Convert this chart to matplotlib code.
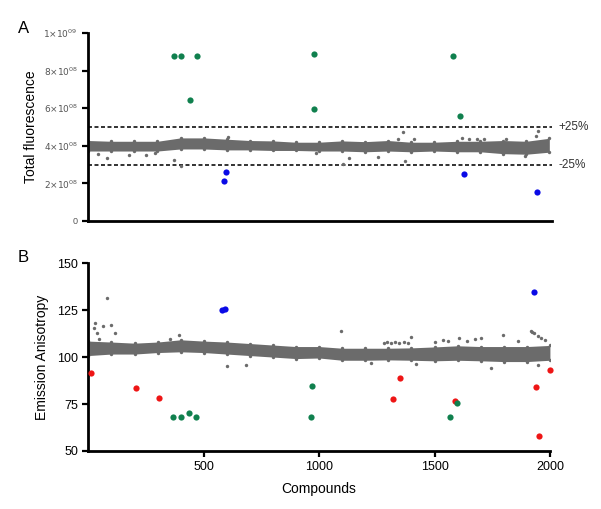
import matplotlib
matplotlib.use('Agg')
import matplotlib.pyplot as plt
import numpy as np

plt.rcParams['font.family'] = ['Liberation Sans', 'DejaVu Sans']

# ---- data ----
# dense gray band, envelope sampled every 100 compounds
env_x = [0, 100, 200, 300, 400, 500, 600, 700, 800, 900, 1000,
         1100, 1200, 1300, 1400, 1500, 1600, 1700, 1800, 1900, 2000]
# panel A, units of 1e8
a_top = [4.28, 4.24, 4.24, 4.24, 4.42, 4.42, 4.35, 4.28, 4.26, 4.19, 4.19,
         4.26, 4.22, 4.28, 4.19, 4.19, 4.24, 4.24, 4.28, 4.24, 4.40]
a_bot = [3.72, 3.72, 3.72, 3.72, 3.83, 3.83, 3.78, 3.78, 3.75, 3.75, 3.72,
         3.72, 3.68, 3.72, 3.68, 3.72, 3.68, 3.68, 3.58, 3.55, 3.66]
# panel B
b_top = [108.5, 108.0, 107.4, 108.0, 109.2, 108.5, 108.0, 107.2, 106.4, 105.6, 105.6,
         104.7, 104.7, 104.7, 104.9, 105.4, 106.0, 105.6, 105.6, 105.6, 106.2]
b_bot = [100.8, 101.6, 101.6, 102.4, 102.8, 102.4, 101.6, 100.8, 100.0, 99.2, 99.5,
         98.3, 98.3, 98.5, 98.3, 98.0, 98.3, 98.0, 97.6, 97.6, 98.3]

# panel A single points (x = compound, y = units of 1e8)
a_gray_x = [43, 82, 175, 248, 291, 370, 400, 606, 987, 1103, 1130, 1255, 1342,
            1364, 1374, 1412, 1622, 1652, 1686, 1716, 1813, 1896, 1943, 1953]
a_gray_y = [3.56, 3.36, 3.53, 3.53, 3.62, 3.23, 2.90, 4.45, 3.63, 3.03, 3.35, 3.40, 4.36,
            4.75, 3.19, 4.38, 4.43, 4.38, 4.35, 4.38, 4.38, 3.46, 4.52, 4.79]
a_green_x = [370, 404, 470, 443, 978, 978, 1583, 1613]
a_green_y = [8.77, 8.77, 8.77, 6.42, 8.88, 5.94, 8.77, 5.56]
a_blue_x = [587, 596, 1630, 1948]
a_blue_y = [2.14, 2.62, 2.51, 1.55]

# panel B single points
b_gray_x = [23, 30, 38, 45, 64, 81, 98, 114, 353, 392, 599, 684,
            1093, 1223, 1280, 1296, 1312, 1330, 1348, 1366, 1384, 1397, 1420,
            1500, 1535, 1560, 1607, 1640, 1675, 1701, 1744, 1795, 1860,
            1918, 1922, 1932, 1947, 1947, 1960, 1980]
b_gray_y = [115.3, 118.2, 112.9, 109.4, 116.5, 131.5, 117.0, 112.6, 109.7, 111.5, 95.2, 95.6,
            113.8, 96.6, 107.6, 107.8, 107.6, 107.8, 107.6, 107.8, 107.6, 110.8, 96.4,
            108.2, 109.0, 108.4, 110.3, 108.8, 109.4, 110.0, 94.3, 111.7, 108.6,
            113.8, 113.2, 112.9, 111.2, 95.7, 110.2, 109.0]
b_red_x = [12, 207, 304, 1319, 1349, 1588, 1939, 1954, 2001]
b_red_y = [91.3, 83.5, 78.4, 77.5, 89.0, 76.6, 84.2, 57.8, 92.9]
b_green_x = [367, 401, 436, 465, 966, 970, 1566, 1598]
b_green_y = [68.2, 68.2, 70.4, 68.1, 67.9, 84.6, 67.9, 75.4]
b_blue_x = [580, 590, 1929]
b_blue_y = [125.2, 125.7, 134.6]

a_yticks = [0, 2, 4, 6, 8, 10]
a_yticklabels = ['0', r'$2{\times}10^{08}$', r'$4{\times}10^{08}$', r'$6{\times}10^{08}$',
                 r'$8{\times}10^{08}$', r'$1{\times}10^{09}$']
b_yticks = [50, 75, 100, 125, 150]
b_xticks = [500, 1000, 1500, 2000]

GRAY = '#6b6b6b'
GREEN = '#10804e'
BLUE = '#0a0ae6'
RED = '#ee1515'

fig = plt.figure(figsize=(6.01, 5.09), dpi=100)
axA = fig.add_axes([0.147, 0.566, 0.772, 0.369])
axB = fig.add_axes([0.147, 0.114, 0.768, 0.369])


def style(ax):
    for s in ['top', 'right']:
        ax.spines[s].set_visible(False)
    for s in ['left', 'bottom']:
        ax.spines[s].set_linewidth(2.0)
    ax.tick_params(direction='out', length=4, width=1.6, colors='black')


# ---- panel A ----
style(axA)
axA.fill_between(env_x, a_bot, a_top, color=GRAY, lw=0, zorder=2)
axA.scatter(env_x, a_top, s=6, color=GRAY, lw=0, zorder=2)
axA.scatter(env_x, a_bot, s=6, color=GRAY, lw=0, zorder=2)
axA.scatter(a_gray_x, a_gray_y, s=6, color=GRAY, lw=0, zorder=2)
axA.scatter(a_green_x, a_green_y, s=20, color=GREEN, lw=0, zorder=3)
axA.scatter(a_blue_x, a_blue_y, s=20, color=BLUE, lw=0, zorder=3)
for yv in [5, 3]:
    axA.axhline(yv, color='#222222', lw=1.3, ls=(0, (2.2, 1.4)), zorder=1)
axA.text(2040, 5, '+25%', fontsize=8.5, va='center', ha='left', color='#333333')
axA.text(2040, 3, '-25%', fontsize=8.5, va='center', ha='left', color='#333333')
axA.set_xlim(0, 2013)
axA.set_ylim(0, 10)
axA.set_xticks([])
axA.set_yticks(a_yticks)
axA.set_yticklabels(a_yticklabels, fontsize=6.5, color='#555555')
axA.set_ylabel('Total fluorescence', fontsize=10, labelpad=4)
fig.text(0.03, 0.935, 'A', fontsize=12)

# ---- panel B ----
style(axB)
axB.fill_between(env_x, b_bot, b_top, color=GRAY, lw=0, zorder=2)
axB.scatter(env_x, b_top, s=6, color=GRAY, lw=0, zorder=2)
axB.scatter(env_x, b_bot, s=6, color=GRAY, lw=0, zorder=2)
axB.scatter(b_gray_x, b_gray_y, s=6, color=GRAY, lw=0, zorder=2)
axB.scatter(b_red_x, b_red_y, s=20, color=RED, lw=0, zorder=3, clip_on=False)
axB.scatter(b_green_x, b_green_y, s=20, color=GREEN, lw=0, zorder=3)
axB.scatter(b_blue_x, b_blue_y, s=20, color=BLUE, lw=0, zorder=3)
axB.set_xlim(0, 2000)
axB.set_ylim(50, 150)
axB.set_xticks(b_xticks)
axB.set_yticks(b_yticks)
axB.tick_params(labelsize=9)
axB.set_ylabel('Emission Anisotropy', fontsize=10, labelpad=6)
axB.set_xlabel('Compounds', fontsize=10, labelpad=6)
fig.text(0.03, 0.485, 'B', fontsize=12)

fig.savefig('out.png', dpi=100)
